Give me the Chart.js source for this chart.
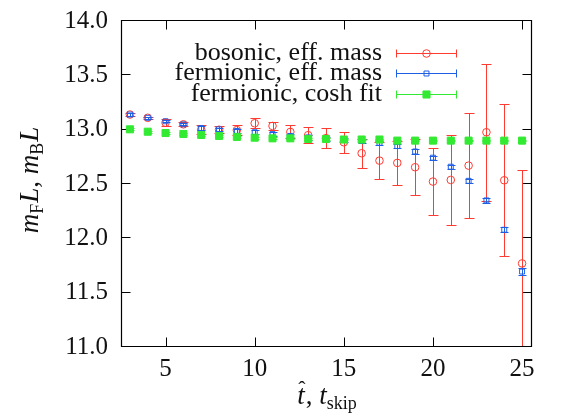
<!DOCTYPE html>
<html><head><meta charset="utf-8">
<script src="https://cdn.jsdelivr.net/npm/chart.js@4"></script>
<style>html,body{margin:0;padding:0;background:#fff}#wrap{width:569px;height:417px;position:relative}</style>
</head><body><div id="wrap"><canvas id="c" width="569" height="417"></canvas></div>
<script>
// ---- data ----
const tSkip = [3,4,5,6,7,8,9,10,11,12,13,14,15,16,17,18,19,20,21,22,23,24,25];
const bosonicMass = [13.13,13.10,13.055,13.04,12.99,12.99,12.987,13.05,13.025,12.97,12.94,12.913,12.875,12.774,12.706,12.685,12.645,12.513,12.528,12.66,12.967,12.525,11.76];
const bosonicErr  = [0.01,0.01,0.03,0.02,0.04,0.03,0.047,0.046,0.04,0.06,0.075,0.093,0.095,0.135,0.17,0.20,0.26,0.31,0.41,0.48,0.63,0.70,0.86];
const fermionicMass = [13.13,13.10,13.068,13.04,13.006,12.994,12.979,12.967,12.95,12.933,12.92,12.905,12.898,12.886,12.87,12.84,12.79,12.733,12.65,12.52,12.34,12.07,11.685];
const fermionicErr  = [0.01,0.01,0.01,0.01,0.015,0.015,0.02,0.02,0.02,0.02,0.02,0.02,0.02,0.02,0.02,0.02,0.02,0.02,0.02,0.02,0.02,0.025,0.03];
const coshFit    = [12.994,12.972,12.96,12.951,12.942,12.933,12.924,12.917,12.911,12.911,12.905,12.905,12.90,12.90,12.90,12.89,12.89,12.89,12.89,12.89,12.89,12.89,12.89];
const coshFitErr = [0.008,0.008,0.008,0.008,0.008,0.008,0.008,0.008,0.008,0.008,0.008,0.008,0.008,0.008,0.008,0.008,0.008,0.008,0.008,0.008,0.008,0.008,0.008];
const xTickValues = [5,10,15,20,25];
const yTickValues = [11.0,11.5,12.0,12.5,13.0,13.5,14.0];
const xTickLabels = ['5','10','15','20','25'];
const yTickLabels = ['11.0','11.5','12.0','12.5','13.0','13.5','14.0'];
const seriesLabels = ['bosonic, eff. mass','fermionic, eff. mass','fermionic, cosh fit'];

const RED = '#ff3a30', BLUE = '#1f5fe6', GREEN = '#33ea33';
const FAM_REG = "Tinos";
const FAM_IT = "'Liberation Serif'";

function pts(ys){ return tSkip.map((t,i)=>({x:t,y:ys[i]})); }

function fontFor(size, italic){ return italic ? ('italic ' + size + 'px ' + FAM_IT) : (size + 'px ' + FAM_REG); }
function measure(ctx, t, size, italic){ ctx.font = fontFor(size, italic); return ctx.measureText(t).width; }
function text(ctx, t, x, y, size, align, baseline, italic){
  ctx.save();
  ctx.font = fontFor(size, italic);
  ctx.textAlign = align; ctx.textBaseline = baseline;
  ctx.fillText(t, x, y);
  ctx.restore();
}

const errorBarPlugin = {
  id:'errorBars',
  beforeDatasetDraw(chart, args){
    const ds = chart.data.datasets[args.index];
    if(!ds.errors) return;
    const {ctx, chartArea:a, scales:{x,y}} = chart;
    ctx.save();
    ctx.beginPath(); ctx.rect(a.left, a.top, a.right-a.left, a.bottom-a.top); ctx.clip();
    ctx.strokeStyle = ds.borderColor; ctx.lineWidth = 1;
    ds.data.forEach((p,i)=>{
      const px = Math.round(x.getPixelForValue(p.x))+0.5;
      const yt = Math.round(y.getPixelForValue(p.y + ds.errors[i]))+0.5;
      const yb = Math.round(y.getPixelForValue(p.y - ds.errors[i]))+0.5;
      const cw = ds.capHalf;
      ctx.beginPath();
      ctx.moveTo(px, yt); ctx.lineTo(px, yb);
      ctx.moveTo(px-cw, yt); ctx.lineTo(px+cw, yt);
      ctx.moveTo(px-cw, yb); ctx.lineTo(px+cw, yb);
      ctx.stroke();
    });
    ctx.restore();
  }
};

const framePlugin = {
  id:'frame',
  beforeDatasetsDraw(chart){
    const {ctx, chartArea:a, scales:{x,y}} = chart;
    const L=Math.round(a.left)+0.5, R=Math.round(a.right)+0.5, T=Math.round(a.top)+0.5, B=Math.round(a.bottom)+0.5;
    ctx.save();
    ctx.strokeStyle='#000'; ctx.lineWidth=1.2;
    ctx.beginPath(); ctx.rect(L,T,R-L,B-T); ctx.stroke();
    ctx.lineWidth=1;
    const tl=9;
    ctx.beginPath();
    xTickValues.forEach(v=>{
      const px=Math.round(x.getPixelForValue(v))+0.5;
      ctx.moveTo(px,B); ctx.lineTo(px,B-tl);
      ctx.moveTo(px,T); ctx.lineTo(px,T+tl);
    });
    yTickValues.forEach(v=>{
      const py=Math.round(y.getPixelForValue(v))+0.5;
      ctx.moveTo(L,py); ctx.lineTo(L+tl,py);
      ctx.moveTo(R,py); ctx.lineTo(R-tl,py);
    });
    ctx.stroke();
    ctx.fillStyle = '#111';
    xTickValues.forEach((v,i)=>{
      text(ctx, xTickLabels[i], x.getPixelForValue(v), 369, 25, 'center', 'middle', false);
    });
    yTickValues.forEach((v,i)=>{
      text(ctx, yTickLabels[i], 108, y.getPixelForValue(v) + 1, 25, 'right', 'middle', false);
    });
    ctx.restore();
  }
};

function drawMarker(ctx, ds, cx, cy){
  ctx.save();
  ctx.lineWidth = 1;
  ctx.strokeStyle = ds.borderColor; ctx.fillStyle = ds.backgroundColor;
  Chart.helpers.drawPoint(ctx, {pointStyle: ds.pointStyle, radius: ds.pointRadius, borderWidth: 1}, cx, cy);
  ctx.restore();
}

const legendPlugin = {
  id:'customLegend',
  afterDraw(chart){
    const ctx = chart.ctx;
    const order = [2,1,0];
    ctx.save();
    order.forEach((di, r)=>{
      const ds = chart.data.datasets[di];
      const cy = 53 + r*20.3;
      ctx.fillStyle = '#111';
      text(ctx, ds.label, 382, cy + 7, 26, 'right', 'alphabetic', false);
      const yy = Math.round(cy)+0.5;
      ctx.strokeStyle = ds.borderColor; ctx.lineWidth = 1;
      ctx.beginPath();
      ctx.moveTo(396.5, yy); ctx.lineTo(456.5, yy);
      ctx.moveTo(396.5, yy-4); ctx.lineTo(396.5, yy+4);
      ctx.moveTo(456.5, yy-4); ctx.lineTo(456.5, yy+4);
      ctx.stroke();
      drawMarker(ctx, ds, 426.5, yy);
    });
    ctx.restore();
  }
};

function drawPieces(ctx, pieces, cx, base){
  let total = 0;
  pieces.forEach(p=>{ p.w = measure(ctx, p.t, p.size, p.it); total += p.w + (p.gap||0); });
  let xx = cx - total/2;
  pieces.forEach(p=>{ text(ctx, p.t, xx, base + (p.dy||0), p.size, 'left', 'alphabetic', p.it); xx += p.w + (p.gap||0); });
  return cx - total/2;
}

const titlesPlugin = {
  id:'axisTitles',
  afterDraw(chart){
    const ctx = chart.ctx;
    ctx.save();
    ctx.fillStyle = '#111';
    ctx.save();
    ctx.translate(38, 180); ctx.rotate(-Math.PI/2);
    drawPieces(ctx, [
      {t:'m', size:27, it:true}, {t:'F', size:18, dy:5, gap:1}, {t:'L', size:27, it:true}, {t:', ', size:27},
      {t:'m', size:27, it:true}, {t:'B', size:18, dy:5, gap:1}, {t:'L', size:27, it:true}
    ], 0, 0);
    ctx.restore();
    const base = 404;
    const x0 = drawPieces(ctx, [{t:'t', size:27, it:true, gap:1}, {t:', ', size:27}, {t:'t', size:27, it:true}, {t:'skip', size:18, dy:5}], 327, base);
    text(ctx, '\u02C6', x0 + 1, base - 8, 22, 'left', 'alphabetic', false);
    ctx.restore();
  }
};

new Chart(document.getElementById('c'), {
  type: 'scatter',
  data: {
    datasets: [
      { label: seriesLabels[2], data: pts(coshFit), errors: coshFitErr, capHalf: 4,
        pointStyle:'rect', pointRadius:5, pointBorderWidth:1, borderColor: GREEN, backgroundColor: GREEN, order: 0 },
      { label: seriesLabels[1], data: pts(fermionicMass), errors: fermionicErr, capHalf: 4,
        pointStyle:'rect', pointRadius:3.5, pointBorderWidth:1, borderColor: BLUE, backgroundColor: 'rgba(0,0,0,0)', order: 1 },
      { label: seriesLabels[0], data: pts(bosonicMass), errors: bosonicErr, capHalf: 5,
        pointStyle:'circle', pointRadius:3.8, pointBorderWidth:1, borderColor: RED, backgroundColor: 'rgba(0,0,0,0)', order: 2 }
    ]
  },
  options: {
    responsive: false, animation: false, devicePixelRatio: 1,
    layout: { padding: { top: 20, right: 38, left: 0, bottom: 0 } },
    plugins: { legend: { display: false }, tooltip: { enabled: false } },
    scales: {
      x: {
        type: 'linear', min: 2.5, max: 25.5,
        grid: { display: false, drawTicks: false }, border: { display: false },
        afterBuildTicks(s){ s.ticks = xTickValues.map(v=>({value:v})); },
        afterFit(s){ s.height = 71; },
        ticks: { display: false }
      },
      y: {
        type: 'linear', min: 11, max: 14,
        grid: { display: false, drawTicks: false }, border: { display: false },
        afterBuildTicks(s){ s.ticks = yTickValues.map(v=>({value:v})); },
        afterFit(s){ s.width = 121; },
        ticks: { display: false }
      }
    }
  },
  plugins: [framePlugin, errorBarPlugin, legendPlugin, titlesPlugin]
});
</script>
</body></html>
